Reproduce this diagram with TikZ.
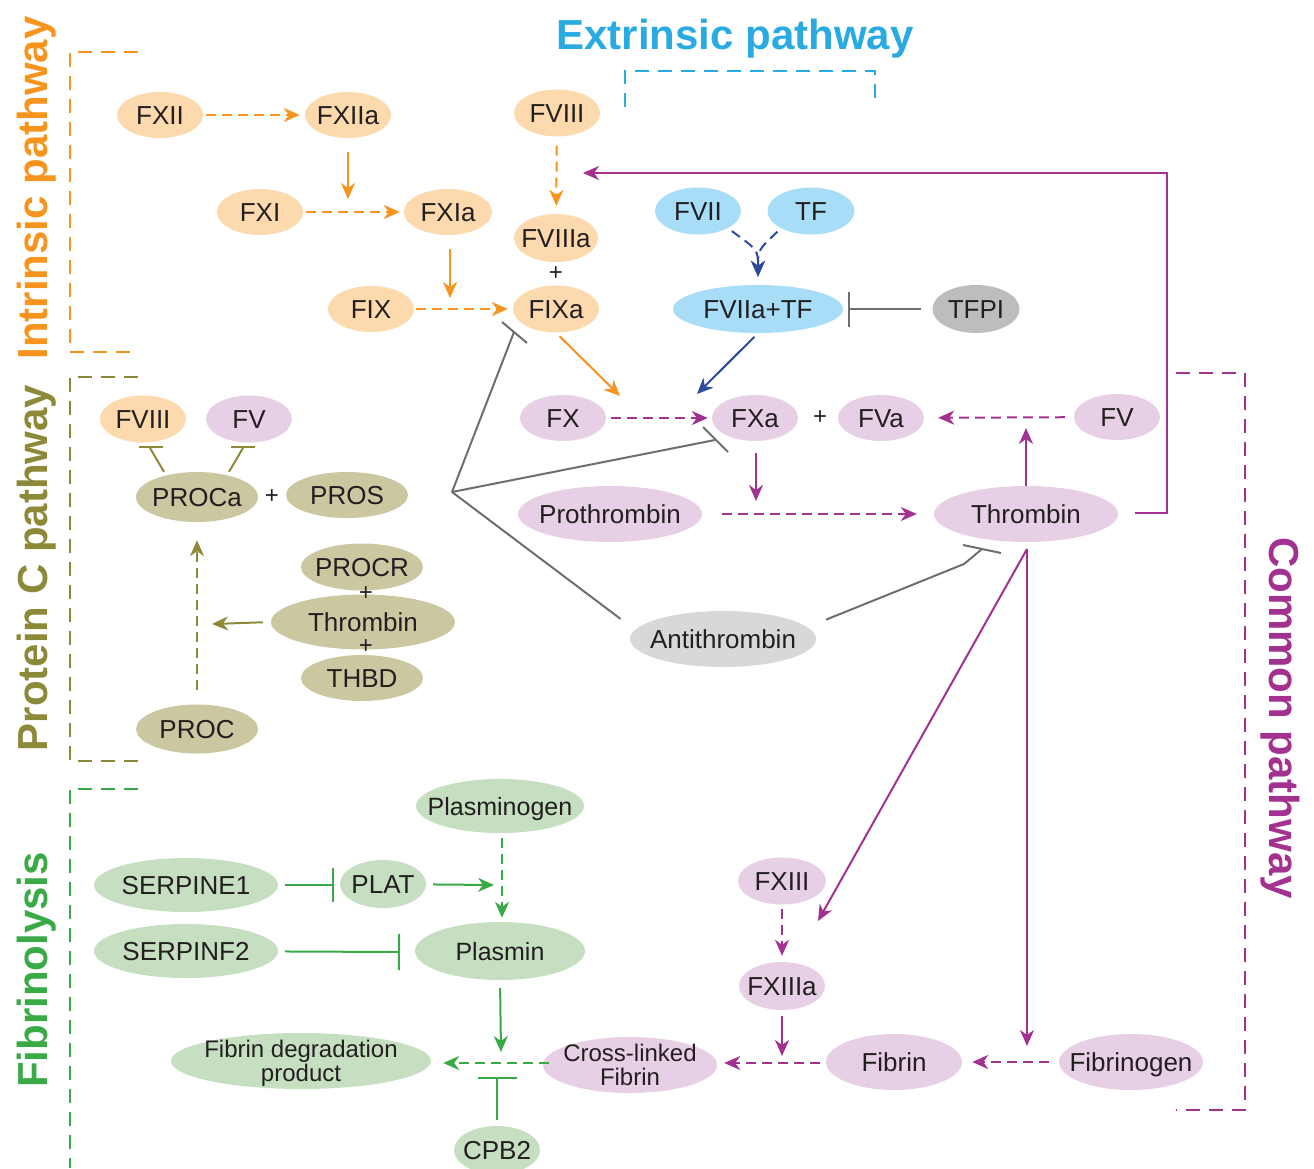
\documentclass[tikz,border=0pt]{standalone}
\usepackage{fontspec}
\setmainfont{Liberation Sans}
\usetikzlibrary{shapes.geometric,arrows.meta}
\definecolor{corg}{HTML}{F7941D}
\definecolor{forg}{HTML}{FDD9AE}
\definecolor{ccyan}{HTML}{29ABE2}
\definecolor{fcyan}{HTML}{A7DDF6}
\definecolor{cdblue}{HTML}{2E4A9C}
\definecolor{cpur}{HTML}{A2318F}
\definecolor{fpur}{HTML}{E7CFE5}
\definecolor{colv}{HTML}{8C8A38}
\definecolor{folv}{HTML}{CBC7A0}
\definecolor{cgrn}{HTML}{3AAA47}
\definecolor{fgrn}{HTML}{C5DFC0}
\definecolor{cgry}{HTML}{6D6E71}
\definecolor{fgryA}{HTML}{BDBCBE}
\definecolor{fgryB}{HTML}{D8D7D9}
\definecolor{ctxt}{HTML}{231F20}
\newcommand\mk[1]{\makebox[0pt]{#1}}
\newcommand\twoln[2]{\makebox[0pt]{\fontsize{24}{22}\selectfont\begin{tabular}{@{}c@{}}#1\\#2\end{tabular}}}
\begin{document}
\begin{tikzpicture}[x=1pt,y=-1pt,
  ell/.style={ellipse, inner sep=0pt, text height=18.5pt, text depth=0pt, font=\fontsize{26}{30}\selectfont, text=ctxt},
  sm/.style={font=\fontsize{25}{29}\selectfont},
  sz/.style 2 args={minimum width=#1pt, minimum height=#2pt},
  fo/.style={fill=forg}, fc/.style={fill=fcyan}, fp/.style={fill=fpur},
  fl/.style={fill=folv}, fg/.style={fill=fgrn}, fga/.style={fill=fgryA}, fgb/.style={fill=fgryB},
  plus/.style={font=\fontsize{24}{28}\selectfont, text=ctxt, inner sep=0pt},
  ln/.style={line width=2pt},
  lo/.style={ln, draw=corg}, lb/.style={ln, draw=cdblue}, lp/.style={ln, draw=cpur},
  ll/.style={ln, draw=colv}, lg/.style={ln, draw=cgrn}, lk/.style={ln, draw=cgry},
  dsh/.style={dash pattern=on 10pt off 6pt},
  arr/.style={-{Stealth[length=16pt,width=14pt,inset=5pt]}},
  inh/.style={-{Bar[width=#1pt]}},
  brk/.style={line width=2pt, dash pattern=on 14pt off 9pt},
  ttl/.style={font=\fontsize{42}{48}\selectfont\bfseries, inner sep=0pt},
]
\useasboundingbox (0,0) rectangle (1314,1168);

% ---------------- titles and brackets ----------------
\node[ttl, text=ccyan, anchor=base] (tEx) at (735,49) {Extrinsic pathway};
\node[ttl, text=corg, rotate=90, anchor=base] (tIn) at (47,188) {Intrinsic pathway};
\node[ttl, text=colv, rotate=90, anchor=base] (tPC) at (47,568) {Protein C pathway};
\node[ttl, text=cgrn, rotate=90, anchor=base] (tFi) at (47,970) {Fibrinolysis};
\node[ttl, text=cpur, rotate=-90, anchor=base] (tCo) at (1269,718) {Common pathway};

\draw[brk, draw=corg] (138,52) -- (70,52) -- (70,352) -- (138,352);
\draw[brk, draw=colv] (138,377) -- (70,377) -- (70,761) -- (138,761);
\draw[brk, draw=cgrn] (138,789) -- (70,789) -- (70,1168);
\draw[brk, draw=ccyan] (625,107) -- (625,71) -- (875,71) -- (875,107);
\draw[brk, draw=cpur] (1176,373) -- (1245,373) -- (1245,1110) -- (1176,1110);

% ---------------- intrinsic ----------------
\node[ell,fo,sz={86}{46}] (FXII) at (160,115) {\mk{FXII}};
\node[ell,fo,sz={86}{46}] (FXIIa) at (348,115) {\mk{FXIIa}};
\node[ell,fo,sz={86}{47}] (FVIII) at (557,113) {\mk{FVIII}};
\node[ell,fo,sz={86}{46}] (FXI) at (260,212) {\mk{FXI}};
\node[ell,fo,sz={88}{46}] (FXIa) at (448,212) {\mk{FXIa}};
\node[ell,fo,sz={84}{48}] (FVIIIa) at (556,238) {\mk{FVIIIa}};
\node[plus] (p1) at (556,274) {+};
\node[ell,fo,sz={86}{46}] (FIX) at (371,309) {\mk{FIX}};
\node[ell,fo,sz={86}{47}] (FIXa) at (556,309) {\mk{FIXa}};

% ---------------- extrinsic ----------------
\node[ell,fc,sz={86}{47}] (FVII) at (698,211) {\mk{FVII}};
\node[ell,fc,sz={87}{47}] (TF) at (811,211) {\mk{TF}};
\node[ell,fc,sz={170}{48}] (FVIIaTF) at (758,309) {\mk{FVIIa+TF}};
\node[ell,fga,sz={87}{48}] (TFPI) at (976,309) {\mk{TFPI}};

% ---------------- common ----------------
\node[ell,fp,sz={86}{46}] (FX) at (563,418) {\mk{FX}};
\node[ell,fp,sz={86}{46}] (FXa) at (755,418) {\mk{FXa}};
\node[plus] (p2) at (820,418) {+};
\node[ell,fp,sz={86}{46}] (FVa) at (881,418) {\mk{FVa}};
\node[ell,fp,sz={86}{46}] (FV) at (1117,417) {\mk{FV}};
\node[ell,fp,sz={184}{56}] (Proth) at (610,514) {\mk{Prothrombin}};
\node[ell,fp,sz={184}{56}] (Thr) at (1026,514) {\mk{Thrombin}};
\node[ell,fgb,sz={186}{56}] (AT) at (723,639) {\mk{Antithrombin}};
\node[ell,fp,sz={88}{47}] (FXIII) at (782,881) {\mk{FXIII}};
\node[ell,fp,sz={86}{48}] (FXIIIa) at (782,986) {\mk{FXIIIa}};
\node[ell,fp,sz={136}{56}] (Fibrin) at (894,1062) {\mk{Fibrin}};
\node[ell,fp,sz={144}{56}] (Fibrinogen) at (1131,1062) {\mk{Fibrinogen}};
\node[ell,fp,sz={174}{56}] (CLF) at (630,1065) {\twoln{Cross-linked}{Fibrin}};

% ---------------- protein C ----------------
\node[ell,fo,sz={86}{47}] (pFVIII) at (143,419) {\mk{FVIII}};
\node[ell,fp,sz={86}{47}] (pFV) at (249,419) {\mk{FV}};
\node[ell,fl,sz={122}{50}] (PROCa) at (197,497) {\mk{PROCa}};
\node[plus] (p3) at (272,497) {+};
\node[ell,fl,sz={122}{46}] (PROS) at (347,495) {\mk{PROS}};
\node[ell,fl,sz={122}{47}] (PROCR) at (362,567) {\mk{PROCR}};
\node[ell,fl,sz={122}{46}] (THBD) at (362,678) {\mk{THBD}};
\node[ell,fl,sz={184}{55}] (Thr2) at (363,622) {\mk{Thrombin}};
\node[plus] (p4) at (366,594) {+};
\node[plus] (p5) at (366,647) {+};
\node[ell,fl,sz={122}{49}] (PROC) at (197,729) {\mk{PROC}};

% ---------------- fibrinolysis ----------------
\node[ell,fg,sm,sz={168}{54}] (Plg) at (500,806) {\mk{Plasminogen}};
\node[ell,fg,sz={184}{54}] (SE1) at (186,885) {\mk{SERPINE1}};
\node[ell,fg,sz={86}{48}] (PLAT) at (383,884) {\mk{PLAT}};
\node[ell,fg,sz={184}{54}] (SF2) at (186,951) {\mk{SERPINF2}};
\node[ell,fg,sm,sz={170}{58}] (Plm) at (500,951) {\mk{Plasmin}};
\node[ell,fg,sz={260}{56}] (FDP) at (301,1061) {\twoln{Fibrin degradation}{product}};
\node[ell,fg,sz={86}{48}] (CPB2) at (497,1150) {\mk{CPB2}};

% ---------------- coordinates ----------------
\coordinate (c1) at (348,199);
\coordinate (c2) at (450,298);
\coordinate (c3) at (620,396);
\coordinate (c4) at (697,394);
\coordinate (c5) at (756,501);
\coordinate (c6) at (1026,428);
\coordinate (ts) at (1027,549);
\coordinate (c7) at (818,921);
\coordinate (c8) at (1027,1046);
\coordinate (c9) at (782,1056);
\coordinate (fbA) at (1167,513);
\coordinate (fbB) at (1167,173);
\coordinate (fb) at (583,173);
\coordinate (tb) at (848,309);
\coordinate (oc) at (212,624);
\coordinate (gp) at (494,885);
\coordinate (gc) at (501,1052);
\coordinate (gb) at (497,1077);
\coordinate (sb1) at (334,885);
\coordinate (sb2) at (400,952);
\coordinate (J) at (452,492);
\coordinate (jIX) at (514,332);
\coordinate (jIXa) at (502,322);
\coordinate (jIXb) at (527,343);
\coordinate (jXa) at (715,440);
\coordinate (jXaa) at (703,427);
\coordinate (jXab) at (728,452);
\coordinate (k1) at (964,564);
\coordinate (k2) at (982,549);
\coordinate (k2a) at (963,545);
\coordinate (k2b) at (1001,553);
\coordinate (v1) at (150,448);
\coordinate (v1a) at (139,447);
\coordinate (v1b) at (163,447);
\coordinate (v2) at (243,448);
\coordinate (v2a) at (231,447);
\coordinate (v2b) at (255,447);

% ---------------- intrinsic connectors ----------------
\draw[lo,dsh,arr,shorten <=3pt,shorten >=5pt] (FXII) -- (FXIIa);
\draw[lo,arr,shorten <=14pt] (FXIIa) -- (c1);
\draw[lo,dsh,arr,shorten <=3pt,shorten >=4pt] (FXI) -- (FXIa);
\draw[lo,arr,shorten <=14pt] (FXIa.south -| c2) -- (c2);
\draw[lo,dsh,arr,shorten <=2pt,shorten >=5pt] (FIX) -- (FIXa);
\draw[lo,dsh,arr,shorten <=9pt,shorten >=8pt] (FVIII) -- (FVIIIa);
\draw[lo,arr,shorten <=5pt] (FIXa.south) -- (c3);

% ---------------- extrinsic connectors ----------------
\draw[lb,dsh,arr,shorten <=5pt,shorten >=8pt] (FVII.-30) .. controls (758,250) .. (FVIIaTF.north);
\draw[lb,dsh,arr,shorten <=5pt,shorten >=8pt] (TF.-150) .. controls (758,250) .. (FVIIaTF.north);
\draw[lk,inh=35,shorten <=11pt] (TFPI) -- (tb);
\draw[lb,arr,shorten <=5pt] (FVIIaTF.south) -- (c4);

% ---------------- common connectors ----------------
\draw[lp,dsh,arr,shorten <=5pt,shorten >=4pt] (FX) -- (FXa);
\draw[lp,dsh,arr,shorten <=9pt,shorten >=14pt] (FV) -- (FVa);
\draw[lp,arr] (Thr.north -| c6) -- (c6);
\draw[lp,arr,shorten <=12pt] (FXa.south -| c5) -- (c5);
\draw[lp,dsh,arr,shorten <=20pt,shorten >=17pt] (Proth) -- (Thr);
\draw[lp,arr,shorten <=17pt] (Thr.east |- fbA) -- (fbA) -- (fbB) -- (fb);
\draw[lp,arr] (ts) -- (c7);
\draw[lp,arr] (ts) -- (c8);
\draw[lp,dsh,arr,shorten <=4pt,shorten >=6pt] (FXIII) -- (FXIIIa);
\draw[lp,arr,shorten <=6pt] (FXIIIa.south) -- (c9);
\draw[lp,dsh,arr,shorten <=6pt,shorten >=7pt] (Fibrin.west |- 0,1063) -- (CLF.east |- 0,1063);
\draw[lp,dsh,arr,shorten <=10pt,shorten >=10pt] (Fibrinogen) -- (Fibrin);

% ---------------- antithrombin ----------------
\draw[lk,shorten >=18pt] (J) -- (AT.174);
\draw[lk] (J) -- (jIX);
\draw[lk] (jIXa) -- (jIXb);
\draw[lk] (J) -- (jXa);
\draw[lk] (jXaa) -- (jXab);
\draw[lk,shorten <=20pt] (AT.8) -- (k1) -- (k2);
\draw[lk] (k2a) -- (k2b);

% ---------------- protein C connectors ----------------
\draw[ll] (PROCa.north -| 164,0) -- (v1);
\draw[ll] (v1a) -- (v1b);
\draw[ll] (PROCa.north -| 229,0) -- (v2);
\draw[ll] (v2a) -- (v2b);
\draw[ll,dsh,arr,shorten <=14pt,shorten >=18pt] (PROC) -- (PROCa);
\draw[ll,arr,shorten <=8pt] (Thr2.west) -- (oc);

% ---------------- fibrinolysis connectors ----------------
\draw[lg,inh=34,shorten <=7pt] (SE1) -- (sb1);
\draw[lg,arr,shorten <=7pt] (PLAT) -- (gp);
\draw[lg,dsh,arr,shorten <=5pt,shorten >=4pt] (Plg.south -| 502,0) -- (Plm.north -| 502,0);
\draw[lg,inh=36,shorten <=7pt] (SF2) -- (sb2);
\draw[lg,arr,shorten <=8pt] (Plm.south) -- (gc);
\draw[lg,dsh,arr,shorten <=-6pt,shorten >=12pt] (CLF.west |- 0,1063) -- (FDP.east |- 0,1063);
\draw[lg,inh=39,shorten <=6pt] (CPB2.north) -- (gb);
\end{tikzpicture}
\end{document}
